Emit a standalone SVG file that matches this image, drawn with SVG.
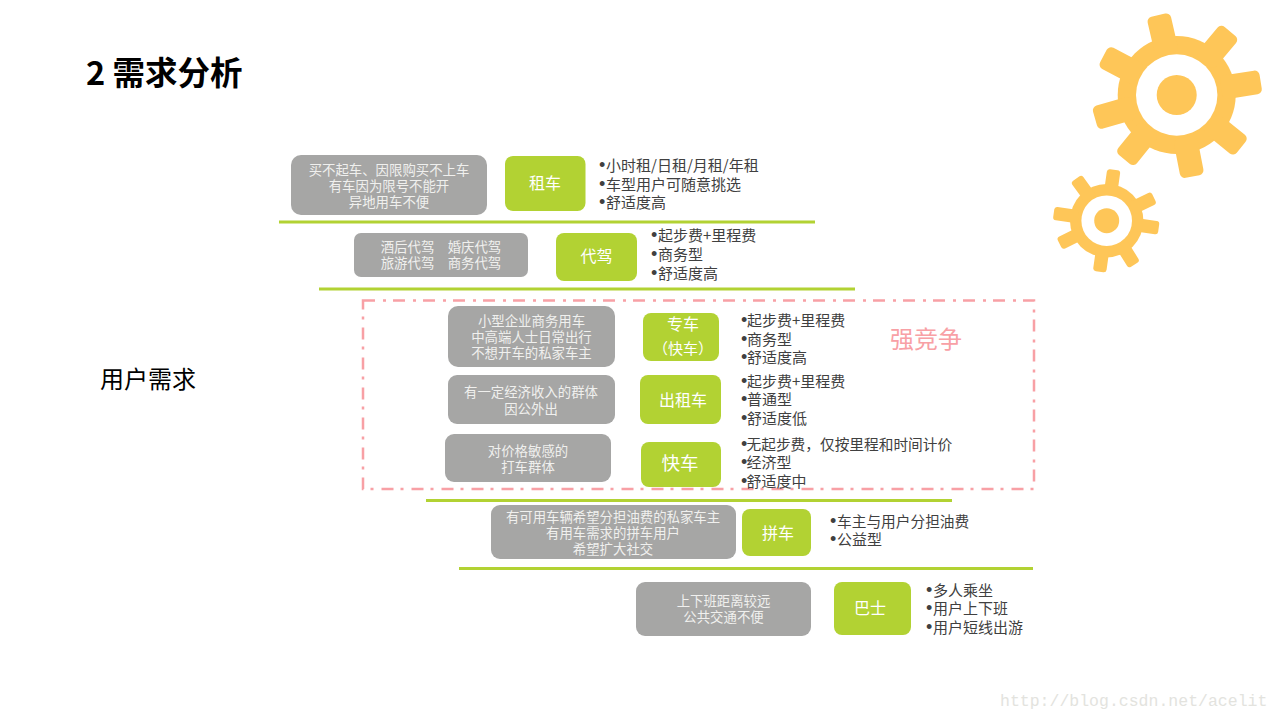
<svg xmlns="http://www.w3.org/2000/svg" width="1280" height="720" viewBox="0 0 1280 720">
<style>
text{font-family:"Noto Sans CJK SC","Noto Sans",sans-serif}
.g{fill:#a6a6a5}
.n{fill:#b2d233}
.gt{fill:#f0f0ee;font-size:13.4px;text-anchor:middle;font-weight:400}
.nt{fill:#fff;font-size:16px;text-anchor:middle;font-weight:400;text-spacing-trim:space-all}
.l{fill:#404040;font-size:15px;font-weight:400;text-spacing-trim:space-all}
.b{font-family:"Liberation Sans",sans-serif;font-size:18px}
.sep{stroke:#b2d233;stroke-width:3;fill:none}
.gear{fill:#fec658}
.hole{fill:#fff}
</style>
<rect width="1280" height="720" fill="#fff"/>
<text x="86" y="85" font-size="32.500" font-weight="700" fill="#000">2 需求分析</text>
<text x="100" y="388" font-size="24" fill="#000" font-weight="400">用户需求</text>
<g id="gear-big" class="gear" transform="translate(1176.7 95)">
<circle r="59"/>
<rect x="-12" y="-82" width="24" height="40" rx="5" transform="rotate(-13)"/>
<rect x="-12" y="-83" width="24" height="40" rx="5" transform="rotate(40)"/>
<rect x="-12" y="-85" width="24" height="40" rx="5" transform="rotate(81)"/>
<rect x="-12" y="-83" width="24" height="40" rx="5" transform="rotate(129)"/>
<rect x="-12" y="-83" width="24" height="40" rx="5" transform="rotate(169)"/>
<rect x="-12" y="-83" width="24" height="40" rx="5" transform="rotate(219)"/>
<rect x="-12" y="-85" width="24" height="40" rx="5" transform="rotate(254)"/>
<rect x="-12" y="-83" width="24" height="40" rx="5" transform="rotate(298)"/>
<circle r="40.7" class="hole"/>
<circle r="20"/>
</g>
<g id="gear-small" class="gear" transform="translate(1106.7 220.7)">
<circle r="36.7"/>
<rect x="-6.7" y="-51.500" width="13.4" height="25" rx="3" transform="rotate(8)"/>
<rect x="-6.7" y="-52.500" width="13.4" height="25" rx="3" transform="rotate(64)"/>
<rect x="-6.7" y="-52.500" width="13.4" height="25" rx="3" transform="rotate(98)"/>
<rect x="-6.7" y="-52" width="13.4" height="25" rx="3" transform="rotate(148)"/>
<rect x="-6.7" y="-51.500" width="13.4" height="25" rx="3" transform="rotate(188)"/>
<rect x="-6.7" y="-52.500" width="13.4" height="25" rx="3" transform="rotate(244)"/>
<rect x="-6.7" y="-53.500" width="13.4" height="25" rx="3" transform="rotate(278)"/>
<rect x="-6.7" y="-52" width="13.4" height="25" rx="3" transform="rotate(324)"/>
<circle r="25.3" class="hole"/>
<circle r="12.5"/>
</g>
<g id="connectors">
<line class="sep" x1="279" y1="222" x2="815" y2="222"/>
<line class="sep" x1="319" y1="289" x2="855" y2="289"/>
<line class="sep" x1="426" y1="500.500" x2="952" y2="500.500"/>
<line class="sep" x1="459" y1="568.500" x2="1033" y2="568.500"/>
</g>
<g id="strong-competition">
<rect x="363" y="300.500" width="671" height="188.500" fill="none" stroke="#f8a0a5" stroke-width="2.500" stroke-dasharray="12 8 3 7"/>
<text x="890" y="348" font-size="24" fill="#f8a0a5" font-weight="400">强竞争</text>
</g>
<g id="rent">
<rect class="g" x="291" y="155" width="196" height="60" rx="10"/>
<text class="gt" x="389" y="175">买不起车、因限购买不上车</text>
<text class="gt" x="389" y="191">有车因为限号不能开</text>
<text class="gt" x="389" y="207">异地用车不便</text>
<rect class="n" x="505" y="156" width="80.500" height="55" rx="8"/>
<text class="nt" x="545" y="189">租车</text>
<text class="l" x="599" y="171"><tspan class="b">•</tspan><tspan x="606">小时租/日租/月租/年租</tspan></text>
<text class="l" x="599" y="190"><tspan class="b">•</tspan><tspan x="606">车型用户可随意挑选</tspan></text>
<text class="l" x="599" y="208"><tspan class="b">•</tspan><tspan x="606">舒适度高</tspan></text>
</g>
<g id="driver">
<rect class="g" x="354" y="233" width="174" height="44" rx="7"/>
<text class="gt" x="441" y="252">酒后代驾　婚庆代驾</text>
<text class="gt" x="441" y="268">旅游代驾　商务代驾</text>
<rect class="n" x="556" y="233" width="81" height="48" rx="8"/>
<text class="nt" x="596.500" y="262">代驾</text>
<text class="l" x="651" y="241"><tspan class="b">•</tspan><tspan x="658">起步费+里程费</tspan></text>
<text class="l" x="651" y="260"><tspan class="b">•</tspan><tspan x="658">商务型</tspan></text>
<text class="l" x="651" y="279"><tspan class="b">•</tspan><tspan x="658">舒适度高</tspan></text>
</g>
<g id="premier">
<rect class="g" x="448" y="306" width="167" height="61" rx="10"/>
<text class="gt" x="531.500" y="326">小型企业商务用车</text>
<text class="gt" x="531.500" y="342">中高端人士日常出行</text>
<text class="gt" x="531.500" y="358">不想开车的私家车主</text>
<rect class="n" x="643" y="313" width="76" height="48" rx="8"/>
<text class="nt" x="683" y="330">专车</text>
<text class="nt" x="683" y="354" style="font-size:15px">（快车）</text>
<text class="l" x="741" y="326"><tspan class="b">•</tspan><tspan x="747">起步费+里程费</tspan></text>
<text class="l" x="741" y="345"><tspan class="b">•</tspan><tspan x="747">商务型</tspan></text>
<text class="l" x="741" y="363"><tspan class="b">•</tspan><tspan x="747">舒适度高</tspan></text>
</g>
<g id="taxi">
<rect class="g" x="448" y="375" width="167" height="49" rx="9"/>
<text class="gt" x="531" y="397">有一定经济收入的群体</text>
<text class="gt" x="531" y="414">因公外出</text>
<rect class="n" x="640" y="375" width="81" height="49" rx="8"/>
<text class="nt" x="683" y="406">出租车</text>
<text class="l" x="741" y="387"><tspan class="b">•</tspan><tspan x="747">起步费+里程费</tspan></text>
<text class="l" x="741" y="405"><tspan class="b">•</tspan><tspan x="747">普通型</tspan></text>
<text class="l" x="741" y="424"><tspan class="b">•</tspan><tspan x="747">舒适度低</tspan></text>
</g>
<g id="express">
<rect class="g" x="445" y="434" width="166" height="48" rx="9"/>
<text class="gt" x="528" y="456">对价格敏感的</text>
<text class="gt" x="528" y="472">打车群体</text>
<rect class="n" x="641" y="442" width="80" height="45" rx="8"/>
<text class="nt" x="680" y="470" style="font-size:18.500px">快车</text>
<text class="l" x="741" y="450"><tspan class="b">•</tspan><tspan x="746.500" style="font-size:14.700px">无起步费，仅按里程和时间计价</tspan></text>
<text class="l" x="741" y="468"><tspan class="b">•</tspan><tspan x="746.500">经济型</tspan></text>
<text class="l" x="741" y="487"><tspan class="b">•</tspan><tspan x="746.500">舒适度中</tspan></text>
</g>
<g id="carpool">
<rect class="g" x="491" y="505" width="245" height="54" rx="9"/>
<text class="gt" x="613" y="522">有可用车辆希望分担油费的私家车主</text>
<text class="gt" x="613" y="538">有用车需求的拼车用户</text>
<text class="gt" x="613" y="554">希望扩大社交</text>
<rect class="n" x="742" y="509" width="69" height="47" rx="8"/>
<text class="nt" x="778" y="539">拼车</text>
<text class="l" x="830" y="527"><tspan class="b">•</tspan><tspan x="837" style="font-size:14.700px">车主与用户分担油费</tspan></text>
<text class="l" x="830" y="545"><tspan class="b">•</tspan><tspan x="837">公益型</tspan></text>
</g>
<g id="bus">
<rect class="g" x="636" y="582" width="175" height="54" rx="9"/>
<text class="gt" x="723.500" y="606">上下班距离较远</text>
<text class="gt" x="723.500" y="622">公共交通不便</text>
<rect class="n" x="834" y="582" width="77" height="53" rx="8"/>
<text class="nt" x="870" y="614">巴士</text>
<text class="l" x="926" y="596"><tspan class="b">•</tspan><tspan x="933">多人乘坐</tspan></text>
<text class="l" x="926" y="614"><tspan class="b">•</tspan><tspan x="933">用户上下班</tspan></text>
<text class="l" x="926" y="633"><tspan class="b">•</tspan><tspan x="933">用户短线出游</tspan></text>
</g>
<text x="1000" y="706" font-size="16.500" fill="#e3e3de" style="font-family:'Liberation Mono',monospace">http://blog.csdn.net/acelit</text>
</svg>
